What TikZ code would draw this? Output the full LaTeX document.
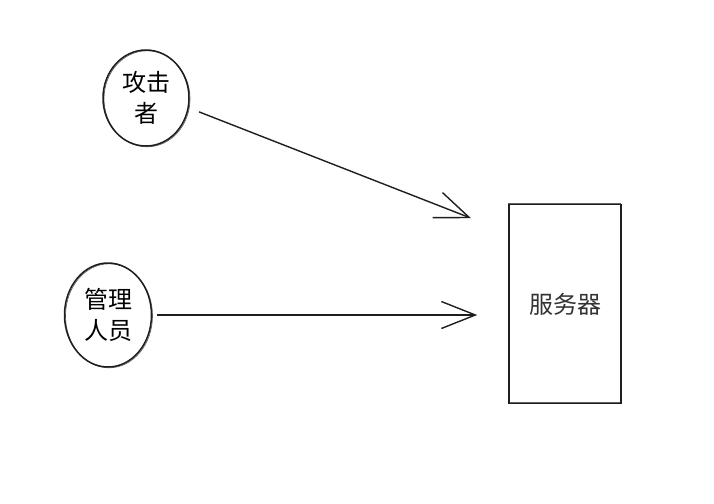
\documentclass[tikz,border=0pt]{standalone}
\usepackage{fontspec}
\newfontfamily\cjk{Noto Sans CJK SC}
\usetikzlibrary{positioning}
\usetikzlibrary{arrows.meta}
\usetikzlibrary{shapes.geometric}
\definecolor{ink}{RGB}{30,30,30}
\definecolor{label}{RGB}{50,50,50}

\tikzset{
    actor/.style={draw=ink, ellipse, line width=1.5pt, inner sep=0pt, align=center,
        font=\cjk\fontsize{24}{31}\selectfont,
        preaction={draw=ink!70, line width=0.7pt, transform canvas={shift={(1pt,-0.8pt)}}}},
    hostbox/.style={draw=ink, rectangle, line width=1.5pt, inner sep=0pt,
        font=\cjk\fontsize{24}{28}\selectfont, text=label,
        preaction={draw=ink!70, line width=0.7pt, transform canvas={shift={(-1pt,0.9pt)}}}},
    flow/.style={ink, line width=1.4pt, -{Straight Barb[length=34pt, width=27pt, line width=1.4pt]}},
}

\begin{document}
\begin{tikzpicture}[x=1pt, y=-1pt]
    \useasboundingbox (0,0) rectangle (714,503);
    \node[actor, minimum width=86pt, minimum height=96pt] (attacker) at (146,98) {攻击\\者};
    \node[actor, minimum width=87pt, minimum height=104pt] (admin) at (108,315) {管理\\人员};
    \node[hostbox, minimum width=112pt, minimum height=199pt] (server) at (565,304) {服务器};

    \draw[flow, shorten <=11pt, shorten >=40pt] (attacker.-13) -- ([yshift=-29pt]server.north west);
    \draw[flow, shorten <=5pt, shorten >=31pt] (admin.east) -- (admin.east -| server.west);
\end{tikzpicture}
\end{document}
